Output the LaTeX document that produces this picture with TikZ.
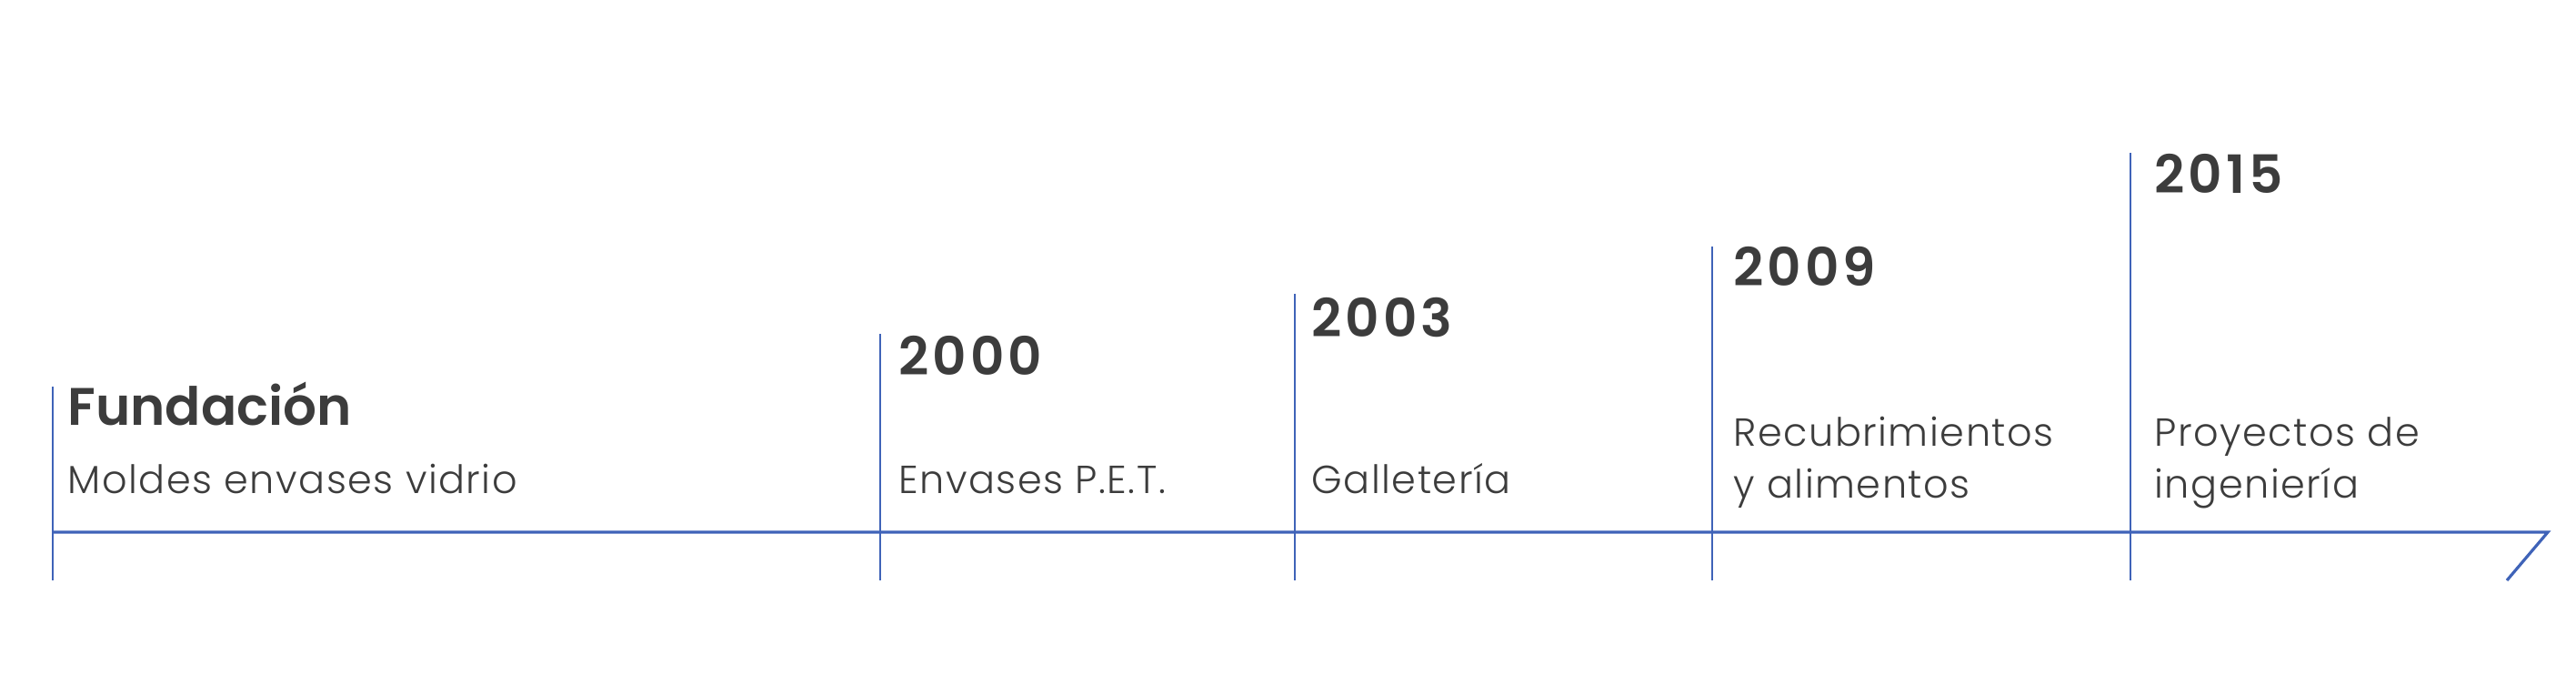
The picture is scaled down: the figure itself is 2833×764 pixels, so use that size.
\documentclass[tikz,border=0pt]{standalone}
\usepackage{fontspec}
\setmainfont{Poppins}
\newfontfamily\lightfont{Poppins Light}[LetterSpace=3.5]
\newfontfamily\boldfont{Poppins SemiBold}
\newfontfamily\yearfont{Poppins SemiBold}[LetterSpace=7]
\definecolor{lineblue}{HTML}{3F63B8}
\definecolor{txtgray}{HTML}{3C3C3C}
\tikzset{
  tl/.style={draw=lineblue, line width=1.4pt},
  axisline/.style={draw=lineblue, line width=1.6pt},
  title/.style={anchor=base west, inner sep=0pt, text=txtgray, font=\boldfont\fontsize{29}{34}\selectfont},
  year/.style={anchor=base west, inner sep=0pt, text=txtgray, font=\yearfont\fontsize{29}{34}\selectfont},
  desc/.style={anchor=base west, inner sep=0pt, text=txtgray, align=left, font=\lightfont\fontsize{21.5}{28}\selectfont},
}
\begin{document}
\begin{tikzpicture}[x=0.5pt,y=-0.5pt]
\useasboundingbox (0,0) rectangle (2833,764);
% axis
\coordinate (a0) at (58,585);
\coordinate (aend) at (2802,585);
\coordinate (tail) at (2757,638);
\draw[axisline, line join=miter] (a0) -- (aend) -- (tail);
% tick lines
\coordinate (t1top) at (58,425);  \coordinate (t1bot) at (58,638);
\coordinate (t2top) at (968,367); \coordinate (t2bot) at (968,638);
\coordinate (t3top) at (1424,323); \coordinate (t3bot) at (1424,638);
\coordinate (t4top) at (1883,271); \coordinate (t4bot) at (1883,638);
\coordinate (t5top) at (2343,168); \coordinate (t5bot) at (2343,638);
\draw[tl] (t1top) -- (t1bot);
\draw[tl] (t2top) -- (t2bot);
\draw[tl] (t3top) -- (t3bot);
\draw[tl] (t4top) -- (t4bot);
\draw[tl] (t5top) -- (t5bot);
% labels
\node[title] (y1) at (74,467) {Fundación};
\node[desc] (d1) at (74,542) {Moldes envases vidrio};
\node[year] (y2) at (988,413) {2000};
\node[desc] (d2) at (988,543) {Envases P.E.T.};
\node[year] (y3) at (1442,371) {2003};
\node[desc] (d3) at (1442,543) {Galletería};
\node[year] (y4) at (1906,315) {2009};
\node[desc] (d4a) at (1906,491) {Recubrimientos};
\node[desc] (d4b) at (1906,547) {y alimentos};
\node[year] (y5) at (2369,213) {2015};
\node[desc] (d5a) at (2369,491) {Proyectos de};
\node[desc] (d5b) at (2369,547) {ingeniería};
\end{tikzpicture}
\end{document}
